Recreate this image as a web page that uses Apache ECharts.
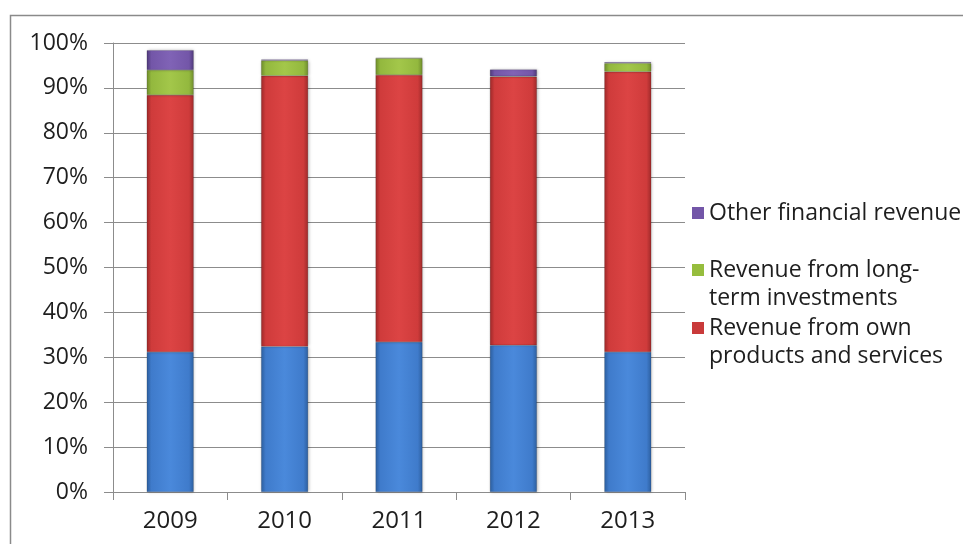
<!DOCTYPE html>
<html>
<head>
<meta charset="utf-8">
<script src="https://cdn.jsdelivr.net/npm/echarts@6/dist/echarts.min.js"></script>
<style>
html,body{margin:0;padding:0;background:#fff;}
#chart{width:963px;height:544px;}
</style>
</head>
<body>
<div id="chart"></div>
<script>
const categories = ['2009', '2010', '2011', '2012', '2013'];
const seriesNames = ['Revenue from own sales base', 'Revenue from own products and services', 'Revenue from long-term investments', 'Other financial revenue'];
const blueValues = [31.2, 32.4, 33.4, 32.7, 31.2];
const redValues = [57.2, 60.3, 59.5, 59.8, 62.4];
const greenValues = [5.6, 3.4, 3.7, 0.1, 1.9];
const purpleValues = [4.4, 0.2, 0.1, 1.5, 0.2];
const yTicks = [0, 10, 20, 30, 40, 50, 60, 70, 80, 90, 100];

const FONT = 'Open Sans';
function bevel(dark, base, light) {
  return new echarts.graphic.LinearGradient(0, 0, 1, 0, [
    {offset: 0, color: dark},
    {offset: 0.1, color: base},
    {offset: 0.5, color: light},
    {offset: 0.9, color: base},
    {offset: 1, color: dark}
  ]);
}
const colors = {
  blue: bevel('#2d5f9f', '#3f7bcb', '#4a89db'),
  red: bevel('#9e2a2a', '#cf3b3b', '#dc4444'),
  green: bevel('#6f8d2d', '#93b83e', '#a3c74a'),
  purple: bevel('#4f3a7a', '#7356a8', '#8063b6')
};
const legendColors = {red: '#c93a3a', green: '#96bd3d', purple: '#7356a8'};

function mkSeries(name, data, color) {
  return {
    name: name, type: 'bar', stack: 'total', data: data, barWidth: 47,
    itemStyle: {color: color, borderColor: 'rgba(0,0,0,0.25)', borderWidth: 0.5,
      shadowColor: 'rgba(0,0,0,0.25)', shadowBlur: 3, shadowOffsetX: 1},
    emphasis: {disabled: true}
  };
}
const legendText = {fontFamily: FONT, fontSize: 23, color: '#1e1e1e', lineHeight: 28};
const topIcon = 'path://M0,0H12V12H0Z M0,40L0.001,40';
const chart = echarts.init(document.getElementById('chart'));
chart.setOption({
  animation: false,
  backgroundColor: '#fff',
  graphic: [{type: 'rect', shape: {x: 10.5, y: 15.5, width: 980, height: 560},
    style: {fill: 'none', stroke: '#8a8a8a', lineWidth: 1.5}, silent: true}],
  grid: {left: 113, right: 278, top: 43, bottom: 52},
  legend: [
    {data: [seriesNames[3]], left: 692, top: 199, padding: 0, orient: 'vertical',
      itemWidth: 12, itemHeight: 12, itemGap: 0, textStyle: legendText,
      icon: 'rect', itemStyle: {color: legendColors.purple, borderWidth: 0}},
    {data: [seriesNames[2]], left: 692, top: 256, padding: 0, orient: 'vertical',
      itemWidth: 12, itemHeight: 40, itemGap: 0, icon: topIcon,
      formatter: () => 'Revenue from long-\nterm investments',
      textStyle: legendText,
      itemStyle: {color: legendColors.green, borderWidth: 0}},
    {data: [seriesNames[1]], left: 692, top: 314, padding: 0, orient: 'vertical',
      itemWidth: 12, itemHeight: 40, itemGap: 0, icon: topIcon,
      formatter: () => 'Revenue from own\nproducts and services',
      textStyle: legendText,
      itemStyle: {color: legendColors.red, borderWidth: 0}}
  ],
  xAxis: {
    type: 'category', data: categories,
    axisLine: {lineStyle: {color: '#8c8c8c', width: 1}},
    axisTick: {show: true, length: 8, lineStyle: {color: '#8c8c8c'}},
    axisLabel: {fontFamily: FONT, fontSize: 24, color: '#1e1e1e', margin: 17}
  },
  yAxis: {
    type: 'value', min: 0, max: 100, interval: 10,
    axisLine: {show: true, lineStyle: {color: '#8c8c8c', width: 1}},
    axisTick: {show: true, length: 9, lineStyle: {color: '#8c8c8c'}},
    splitLine: {lineStyle: {color: '#8c8c8c', width: 1}},
    axisLabel: {fontFamily: FONT, fontSize: 23, color: '#1e1e1e', margin: 25,
      formatter: v => yTicks.indexOf(v) >= 0 ? v + '%' : ''}
  },
  series: [
    mkSeries(seriesNames[0], blueValues, colors.blue),
    mkSeries(seriesNames[1], redValues, colors.red),
    mkSeries(seriesNames[2], greenValues, colors.green),
    mkSeries(seriesNames[3], purpleValues, colors.purple)
  ]
});
</script>
</body>
</html>
